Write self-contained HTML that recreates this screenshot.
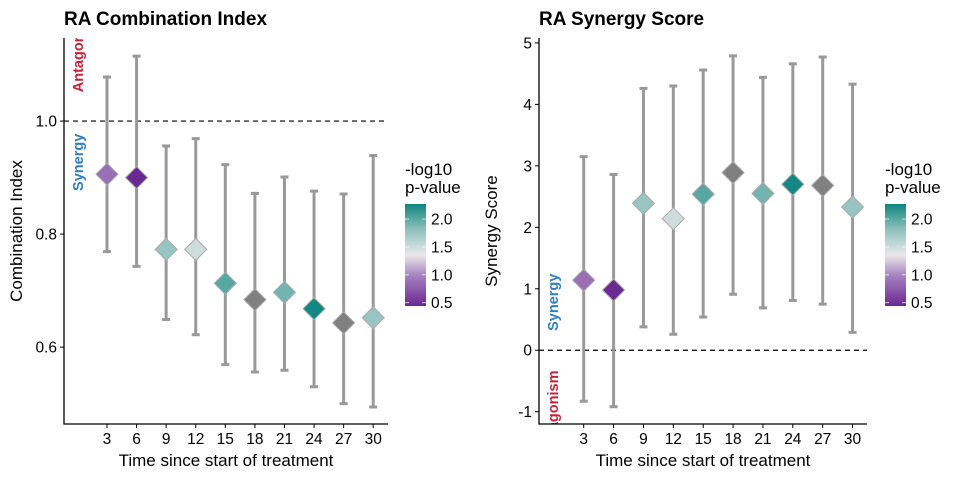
<!DOCTYPE html>
<html><head><meta charset="utf-8"><style>
body{margin:0;background:#fff;}
svg{display:block;font-family:"Liberation Sans",Arial,sans-serif;}
</style></head><body>
<svg id="chart" width="960" height="480" viewBox="0 0 960 480">
<defs>
<linearGradient id="pgrad" x1="0" y1="1" x2="0" y2="0">
<stop offset="0" stop-color="#6a2791"/>
<stop offset="0.3" stop-color="#a783c0"/>
<stop offset="0.5" stop-color="#e9e9e9"/>
<stop offset="0.75" stop-color="#8fc0bd"/>
<stop offset="1" stop-color="#0d8580"/>
</linearGradient>
<clipPath id="clipL"><rect x="64" y="38" width="324" height="386"/></clipPath>
<clipPath id="clipR"><rect x="539" y="38" width="328" height="386"/></clipPath>
</defs>
</svg>
<script>
const times=[3,6,9,12,15,18,21,24,27,30];
const ciMid=[0.906,0.900,0.773,0.773,0.713,0.684,0.697,0.668,0.643,0.652];
const ciHi=[1.078,1.115,0.956,0.969,0.923,0.872,0.901,0.876,0.871,0.939];
const ciLo=[0.769,0.743,0.649,0.622,0.569,0.556,0.559,0.530,0.500,0.494];
const ssMid=[1.14,0.98,2.39,2.14,2.54,2.89,2.55,2.70,2.68,2.33];
const ssHi=[3.15,2.86,4.26,4.30,4.56,4.79,4.44,4.66,4.77,4.33];
const ssLo=[-0.83,-0.92,0.38,0.26,0.54,0.91,0.69,0.81,0.75,0.29];
const pval=[0.8,0.45,1.75,1.45,2.0,null,1.9,2.25,null,1.75];
const ciTicks=[0.6,0.8,1.0];
const ssTicks=[-1,0,1,2,3,4,5];
const legTicks=[0.5,1.0,1.5,2.0];

const NS="http://www.w3.org/2000/svg";
const svg=document.getElementById('chart');
function mk(tag,attrs,parent,text){const e=document.createElementNS(NS,tag);for(const k in attrs)e.setAttribute(k,attrs[k]);if(text!==undefined)e.textContent=text;(parent||svg).appendChild(e);return e;}
function lerp(a,b,t){return a+(b-a)*t;}
function hex(c){return [parseInt(c.slice(1,3),16),parseInt(c.slice(3,5),16),parseInt(c.slice(5,7),16)];}
const stops=[[0.44,'#6a2791'],[0.9,'#a783c0'],[1.3,'#e9e9e9'],[1.8,'#8fc0bd'],[2.27,'#0d8580']];
function pcol(v){if(v===null)return '#808080';if(v<=stops[0][0])return stops[0][1];for(let i=1;i<stops.length;i++){if(v<=stops[i][0]){const t=(v-stops[i-1][0])/(stops[i][0]-stops[i-1][0]);const a=hex(stops[i-1][1]),b=hex(stops[i][1]);return 'rgb('+a.map((x,j)=>Math.round(lerp(x,b[j],t))).join(',')+')';}}return stops[stops.length-1][1];}

function panel(o){
  const g=mk('g',{});
  
  
  const xs=v=>o.x0+(v-o.xd0)/(o.xd1-o.xd0)*(o.x1-o.x0);
  const ys=v=>o.y1-(v-o.yd0)/(o.yd1-o.yd0)*(o.y1-o.y0);
  const t=mk('text',{x:o.x0,y:25,'font-size':19,'font-weight':'bold',fill:'#000'},g,o.title);
  
  
  const ann=mk('g',{'clip-path':'url(#'+o.clip+')'},g);
  o.ann.forEach(a=>{const tx=mk('text',{x:0,y:0,transform:'translate('+(o.x0+19)+','+ys(a.v)+') rotate(-90)','font-size':14.5,'font-weight':'bold',fill:a.c,'text-anchor':a.anchor},ann,a.t);
    
    });
  const rl=mk('line',{x1:o.x0,x2:o.x1,y1:ys(o.ref),y2:ys(o.ref),stroke:'#000','stroke-width':1.2,'stroke-dasharray':'5,4'},g);
  
  
  const ax=mk('path',{d:'M'+o.x0+','+o.y0+'V'+o.y1+'H'+o.x1,fill:'none',stroke:'#000','stroke-width':1.3},g);
  
  
  o.yticks.forEach(v=>{mk('line',{x1:o.x0-4,x2:o.x0,y1:ys(v),y2:ys(v),stroke:'#000'},g);
    const l=mk('text',{x:o.x0-7,y:ys(v)+5.5,'font-size':15.5,'text-anchor':'end',fill:'#000'},g,o.yfmt(v));
    
    });
  times.forEach(v=>{mk('line',{x1:xs(v),x2:xs(v),y1:o.y1,y2:o.y1+4,stroke:'#000'},g);
    const l=mk('text',{x:xs(v),y:o.y1+20,'font-size':15.5,'text-anchor':'middle',fill:'#000'},g,String(v));
    
    });
  const xt=mk('text',{x:(o.x0+o.x1)/2,y:466,'font-size':17,'text-anchor':'middle',fill:'#000'},g,'Time since start of treatment');
  
  
  const yt=mk('text',{x:0,y:0,transform:'translate('+(o.x0-42)+','+((o.y0+o.y1)/2)+') rotate(-90)','font-size':17,'text-anchor':'middle',fill:'#000'},g,o.ytitle);
  
  
  times.forEach((tm,i)=>{
    const x=xs(tm);
    const eb=mk('path',{d:'M'+x+','+ys(o.hi[i])+'V'+ys(o.lo[i])+'M'+(x-4)+','+ys(o.hi[i])+'H'+(x+4)+'M'+(x-4)+','+ys(o.lo[i])+'H'+(x+4),stroke:'#999','stroke-width':3,fill:'none'},g);
    
    
    const y=ys(o.mid[i]),r=11;
    const d=mk('polygon',{points:x+','+(y-r)+' '+(x+r)+','+y+' '+x+','+(y+r)+' '+(x-r)+','+y,fill:pcol(pval[i]),stroke:'#aaa','stroke-width':1},g);
    
    
  });
  const lg=mk('g',{},g);
  
  
  mk('text',{x:o.lx,y:175,'font-size':17,fill:'#000'},lg,'-log10');
  mk('text',{x:o.lx,y:193,'font-size':17,fill:'#000'},lg,'p-value');
  const by0=204,by1=306,bv0=0.44,bv1=2.27;
  const bys=v=>by1-(v-bv0)/(bv1-bv0)*(by1-by0);
  mk('rect',{x:o.lx,y:by0,width:21,height:by1-by0,fill:'url(#pgrad)'},lg);
  legTicks.forEach(v=>{mk('line',{x1:o.lx,x2:o.lx+4,y1:bys(v),y2:bys(v),stroke:'#fff','stroke-opacity':0.7},lg);mk('line',{x1:o.lx+17,x2:o.lx+21,y1:bys(v),y2:bys(v),stroke:'#fff','stroke-opacity':0.7},lg);
    mk('text',{x:o.lx+26,y:bys(v)+5.5,'font-size':15.5,fill:'#000'},lg,v.toFixed(1));});
}
panel({name:'combination-index-panel',title:'RA Combination Index',clip:'clipL',x0:64,x1:388,y0:38,y1:424,xd0:-1.36,xd1:31.5,yd0:0.464,yd1:1.147,
  mid:ciMid,hi:ciHi,lo:ciLo,yticks:ciTicks,yfmt:v=>v.toFixed(1),ytitle:'Combination Index',ref:1.0,lx:405,
  ann:[{t:'Antagonism',v:1.051,c:'#c8213a',anchor:'start',name:'antagonism-label'},{t:'Synergy',v:0.927,c:'#2f7fc1',anchor:'middle',name:'synergy-label'}]});
panel({name:'synergy-score-panel',title:'RA Synergy Score',clip:'clipR',x0:539,x1:867,y0:38,y1:424,xd0:-1.49,xd1:31.45,yd0:-1.2,yd1:5.08,
  mid:ssMid,hi:ssHi,lo:ssLo,yticks:ssTicks,yfmt:v=>String(v),ytitle:'Synergy Score',ref:0,lx:885,
  ann:[{t:'Synergy',v:0.78,c:'#2f7fc1',anchor:'middle',name:'synergy-label'},{t:'Antagonism',v:-0.33,c:'#c8213a',anchor:'end',name:'antagonism-label'}]});
</script>
</body></html>
